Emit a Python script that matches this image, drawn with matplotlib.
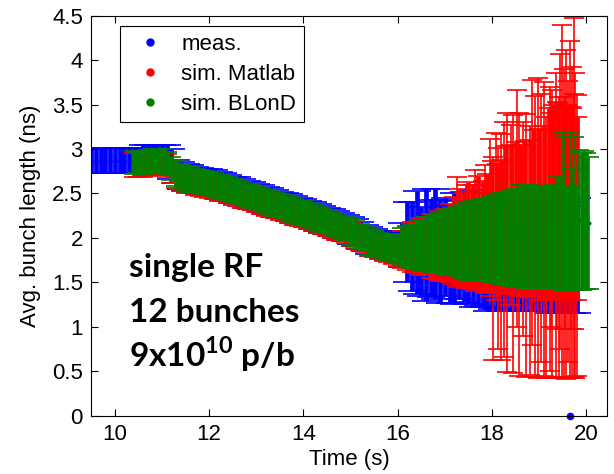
import matplotlib
matplotlib.use('Agg')
import matplotlib.pyplot as plt
from matplotlib.lines import Line2D

plt.rcParams['font.family'] = ['Liberation Sans', 'DejaVu Sans']
plt.rcParams['mathtext.fontset'] = 'custom'
plt.rcParams['mathtext.rm'] = 'Lato:bold'

# --- measured bunch length (blue) ---
meas_t = [9.3, 9.4, 9.5, 9.6, 9.7, 9.8, 9.9, 10.0, 10.1, 10.2, 10.3, 10.4, 10.5, 10.6,
          10.7, 10.8, 10.9, 11.0, 11.1, 11.2, 11.3, 11.4, 11.5, 11.6, 11.7, 11.8, 11.9,
          12.0, 12.1, 12.2, 12.3, 12.4, 12.5, 12.6, 12.7, 12.8, 12.9, 13.0, 13.1, 13.2,
          13.3, 13.4, 13.5, 13.6, 13.7, 13.8, 13.9, 14.0, 14.1, 14.2, 14.3, 14.4, 14.5,
          14.6, 14.7, 14.8, 14.9, 15.0, 15.1, 15.2, 15.3, 15.4, 15.5, 15.6, 15.7, 15.8,
          15.9, 16.0, 16.1, 16.2, 16.3, 16.4, 16.5, 16.6, 16.7, 16.8, 16.9, 17.0, 17.1,
          17.2, 17.3, 17.4, 17.5, 17.6, 17.7, 17.8, 17.9, 18.0, 18.1, 18.2, 18.3, 18.4,
          18.5, 18.6, 18.7, 18.8, 18.9, 19.0, 19.1, 19.2, 19.3, 19.4, 19.5, 19.6, 19.7,
          19.8]
meas_y = [2.87, 2.87, 2.87, 2.87, 2.87, 2.87, 2.87, 2.87, 2.87, 2.87, 2.87, 2.87, 2.87,
          2.89, 2.89, 2.89, 2.89, 2.89, 2.88, 2.83, 2.75, 2.70, 2.68, 2.67, 2.65, 2.64,
          2.63, 2.62, 2.61, 2.59, 2.58, 2.56, 2.54, 2.53, 2.51, 2.49, 2.48, 2.46, 2.44,
          2.42, 2.41, 2.39, 2.37, 2.36, 2.34, 2.32, 2.30, 2.29, 2.27, 2.25, 2.23, 2.21,
          2.19, 2.17, 2.15, 2.13, 2.11, 2.08, 2.06, 2.03, 2.00, 1.97, 1.95, 1.93, 1.91,
          1.90, 1.90, 1.90, 1.92, 1.95, 1.90, 1.95, 1.85, 1.92, 1.88, 1.93, 1.85, 1.90,
          1.82, 1.88, 1.86, 1.90, 1.84, 1.88, 1.83, 1.86, 1.80, 1.85, 1.80, 1.84, 1.78,
          1.82, 1.80, 1.78, 1.82, 1.78, 1.80, 1.76, 1.80, 1.78, 1.82, 1.76, 1.80, 1.78,
          1.76, 1.80]
meas_err = [0.14, 0.14, 0.14, 0.14, 0.14, 0.14, 0.14, 0.14, 0.14, 0.14, 0.14, 0.14, 0.14,
            0.15, 0.15, 0.15, 0.15, 0.15, 0.16, 0.17, 0.13, 0.15, 0.15, 0.15, 0.15, 0.15,
            0.15, 0.15, 0.15, 0.15, 0.15, 0.15, 0.15, 0.15, 0.15, 0.15, 0.15, 0.15, 0.15,
            0.15, 0.15, 0.15, 0.15, 0.15, 0.15, 0.15, 0.15, 0.15, 0.15, 0.15, 0.15, 0.15,
            0.15, 0.15, 0.15, 0.15, 0.15, 0.15, 0.15, 0.15, 0.15, 0.15, 0.15, 0.15, 0.15,
            0.15, 0.15, 0.18, 0.25, 0.45, 0.50, 0.58, 0.50, 0.63, 0.55, 0.62, 0.58, 0.55,
            0.55, 0.62, 0.55, 0.62, 0.58, 0.66, 0.60, 0.64, 0.62, 0.65, 0.60, 0.66, 0.60,
            0.63, 0.62, 0.60, 0.64, 0.60, 0.62, 0.58, 0.62, 0.62, 0.66, 0.60, 0.64, 0.62,
            0.60, 0.65]
# stray measurement at zero
meas_zero_t = [19.66]
meas_zero_y = [0.0]

# --- Matlab simulation (red) ---
matlab_t = [10.4, 10.5, 10.6, 10.7, 10.8, 10.9, 11.0, 11.1, 11.2, 11.3, 11.4, 11.5, 11.6,
            11.7, 11.8, 11.9, 12.0, 12.1, 12.2, 12.3, 12.4, 12.5, 12.6, 12.7, 12.8, 12.9,
            13.0, 13.1, 13.2, 13.3, 13.4, 13.5, 13.6, 13.7, 13.8, 13.9, 14.0, 14.1, 14.2,
            14.3, 14.4, 14.5, 14.6, 14.7, 14.8, 14.9, 15.0, 15.1, 15.2, 15.3, 15.4, 15.5,
            15.6, 15.7, 15.8, 15.9, 16.0, 16.1, 16.2, 16.3, 16.4, 16.5, 16.6, 16.7, 16.8,
            16.9, 17.0, 17.1, 17.2, 17.3, 17.4, 17.5, 17.6, 17.7, 17.8, 17.9, 18.0, 18.1,
            18.2, 18.3, 18.4, 18.5, 18.6, 18.7, 18.8, 18.9, 19.0, 19.1, 19.2, 19.3, 19.4,
            19.5, 19.6, 19.7, 19.8]
matlab_y = [2.82, 2.82, 2.82, 2.83, 2.84, 2.84, 2.84, 2.81, 2.75, 2.69, 2.66, 2.64, 2.63,
            2.61, 2.60, 2.59, 2.58, 2.57, 2.55, 2.54, 2.52, 2.50, 2.49, 2.47, 2.45, 2.44,
            2.42, 2.40, 2.38, 2.37, 2.35, 2.33, 2.32, 2.30, 2.28, 2.26, 2.25, 2.23, 2.21,
            2.19, 2.17, 2.15, 2.13, 2.11, 2.09, 2.07, 2.04, 2.02, 1.99, 1.96, 1.93, 1.91,
            1.89, 1.87, 1.86, 1.85, 1.86, 1.87, 1.88, 1.90, 1.89, 1.90, 1.89, 1.91, 1.90,
            1.91, 1.92, 1.94, 1.97, 2.01, 1.98, 2.04, 2.01, 2.06, 2.02, 2.05, 2.13, 2.11,
            2.13, 2.20, 2.21, 2.22, 2.20, 2.22, 2.22, 2.27, 2.26, 2.28, 2.38, 2.40, 2.41,
            2.39, 2.40, 2.38, 2.33]
matlab_err = [0.13, 0.13, 0.13, 0.13, 0.13, 0.13, 0.13, 0.13, 0.13, 0.13, 0.13, 0.13, 0.13,
              0.13, 0.13, 0.13, 0.13, 0.13, 0.13, 0.13, 0.13, 0.13, 0.13, 0.13, 0.13, 0.13,
              0.13, 0.13, 0.13, 0.13, 0.13, 0.13, 0.13, 0.13, 0.13, 0.13, 0.13, 0.13, 0.13,
              0.13, 0.13, 0.13, 0.13, 0.13, 0.13, 0.13, 0.13, 0.13, 0.13, 0.13, 0.13, 0.13,
              0.13, 0.13, 0.13, 0.14, 0.18, 0.21, 0.24, 0.28, 0.28, 0.32, 0.31, 0.36, 0.36,
              0.39, 0.41, 0.44, 0.49, 0.54, 0.52, 0.59, 0.58, 0.64, 0.62, 0.67, 0.73, 0.72,
              0.75, 0.83, 0.84, 0.86, 0.85, 0.87, 0.88, 0.94, 0.96, 0.98, 1.08, 1.10, 1.11,
              1.09, 1.10, 1.08, 1.03]
# isolated Matlab points with very large spread
matlab_out_t = [17.25, 17.45, 17.65, 17.85, 17.95, 18.02, 18.08, 18.12, 18.2, 18.25, 18.32,
                18.4, 18.45, 18.52, 18.58, 18.65, 18.72, 18.8, 18.85, 18.92, 18.98, 19.05,
                19.1, 19.15, 19.22, 19.28, 19.35, 19.42, 19.45, 19.48, 19.52, 19.58, 19.62,
                19.65, 19.7, 19.73, 19.77, 19.8, 19.25, 19.38, 19.55, 19.68, 19.75]
matlab_out_y = [2.07, 2.02, 2.08, 2.10, 2.23, 1.77, 2.24, 1.88, 1.90, 1.98, 1.95, 2.26,
                1.93, 2.33, 1.93, 2.10, 1.91, 1.86, 2.29, 2.02, 2.11, 2.11, 2.10, 1.89,
                2.10, 2.04, 2.14, 2.00, 2.41, 2.42, 2.16, 2.26, 2.18, 2.32, 2.17, 2.45,
                2.14, 2.03, 2.20, 2.25, 2.28, 2.22, 2.30]
matlab_out_err = [0.62, 0.58, 0.68, 0.72, 0.88, 1.14, 0.94, 1.13, 1.27, 1.32, 1.46, 1.01,
                  1.45, 1.33, 1.48, 1.20, 1.48, 1.40, 1.49, 1.58, 1.69, 1.51, 1.65, 1.47,
                  1.60, 1.62, 1.71, 1.58, 1.66, 1.98, 1.74, 1.85, 1.58, 1.90, 1.75, 2.02,
                  1.72, 1.58, 1.20, 1.28, 1.30, 1.25, 1.32]

# --- BLonD simulation (green) ---
blond_t = [10.4, 10.5, 10.6, 10.7, 10.8, 10.9, 11.0, 11.1, 11.2, 11.3, 11.4, 11.5, 11.6,
           11.7, 11.8, 11.9, 12.0, 12.1, 12.2, 12.3, 12.4, 12.5, 12.6, 12.7, 12.8, 12.9,
           13.0, 13.1, 13.2, 13.3, 13.4, 13.5, 13.6, 13.7, 13.8, 13.9, 14.0, 14.1, 14.2,
           14.3, 14.4, 14.5, 14.6, 14.7, 14.8, 14.9, 15.0, 15.1, 15.2, 15.3, 15.4, 15.5,
           15.6, 15.7, 15.8, 15.9, 16.0, 16.1, 16.2, 16.3, 16.4, 16.5, 16.6, 16.7, 16.8,
           16.9, 17.0, 17.1, 17.2, 17.3, 17.4, 17.5, 17.6, 17.7, 17.8, 17.9, 18.0, 18.1,
           18.2, 18.3, 18.4, 18.5, 18.6, 18.7, 18.8, 18.9, 19.0, 19.1, 19.2, 19.3, 19.4,
           19.5, 19.6, 19.7, 19.8, 19.9, 20.0]
blond_y = [2.85, 2.85, 2.85, 2.86, 2.87, 2.87, 2.87, 2.84, 2.78, 2.72, 2.69, 2.67, 2.66,
           2.64, 2.63, 2.62, 2.61, 2.60, 2.58, 2.57, 2.55, 2.53, 2.52, 2.50, 2.48, 2.47,
           2.45, 2.43, 2.41, 2.40, 2.38, 2.36, 2.35, 2.33, 2.31, 2.29, 2.28, 2.26, 2.24,
           2.22, 2.20, 2.18, 2.16, 2.14, 2.12, 2.10, 2.07, 2.05, 2.02, 1.99, 1.96, 1.94,
           1.92, 1.90, 1.89, 1.88, 1.88, 1.90, 1.90, 1.91, 1.92, 1.92, 1.93, 1.93, 1.94,
           1.94, 1.95, 1.95, 1.96, 1.96, 1.96, 1.96, 1.97, 1.98, 1.98, 1.98, 1.98, 1.99,
           1.99, 2.00, 2.00, 2.00, 2.03, 2.00, 2.02, 2.00, 2.00, 2.01, 2.00, 2.01, 2.05,
           2.00, 2.00, 2.00, 2.00, 2.18, 2.19]
blond_err = [0.13, 0.12, 0.13, 0.13, 0.13, 0.12, 0.13, 0.13, 0.13, 0.14, 0.14, 0.14, 0.14,
             0.13, 0.13, 0.13, 0.13, 0.13, 0.13, 0.13, 0.13, 0.13, 0.13, 0.13, 0.13, 0.13,
             0.13, 0.13, 0.13, 0.13, 0.13, 0.13, 0.13, 0.13, 0.13, 0.13, 0.13, 0.13, 0.13,
             0.13, 0.13, 0.13, 0.13, 0.13, 0.13, 0.13, 0.14, 0.14, 0.14, 0.14, 0.14, 0.14,
             0.14, 0.14, 0.14, 0.14, 0.15, 0.21, 0.23, 0.25, 0.27, 0.28, 0.30, 0.31, 0.33,
             0.34, 0.36, 0.37, 0.38, 0.40, 0.42, 0.43, 0.44, 0.45, 0.47, 0.47, 0.48, 0.50,
             0.51, 0.52, 0.54, 0.55, 0.57, 0.56, 0.58, 0.57, 0.57, 0.57, 0.57, 0.59, 0.63,
             0.58, 0.58, 0.58, 0.58, 0.77, 0.77]
# isolated BLonD points with larger spread
blond_out_t = [19.5, 19.55, 19.65, 19.72, 19.75, 19.85, 19.95, 20.05]
blond_out_y = [2.30, 2.28, 2.30, 2.10, 2.27, 2.20, 2.20, 2.17]
blond_out_err = [0.89, 0.87, 0.89, 0.68, 0.86, 0.79, 0.78, 0.74]

BLUE = '#0000ff'
RED = '#ff0000'
GREEN = '#008000'

fig = plt.figure(figsize=(6.14, 4.74), dpi=100)
ax = fig.add_axes([0.1487, 0.1230, 0.8407, 0.8439])


def draw(t, y, err, color, lw, cap, z, ms=4, clip=True):
    ax.errorbar(t, y, yerr=err, fmt='.', color=color, ms=ms, elinewidth=lw,
                capsize=cap, capthick=1.2, zorder=z, clip_on=clip)


# later series sit on top of earlier ones, markers included
draw(meas_t, meas_y, meas_err, BLUE, 3.4, 10, 1)
draw(meas_zero_t, meas_zero_y, [0.0], BLUE, 1.0, 0, 1, ms=9, clip=False)
draw(matlab_t, matlab_y, matlab_err, RED, 3.4, 7, 2)
draw(matlab_out_t, matlab_out_y, matlab_out_err, RED, 1.2, 7, 2)
draw(blond_t, blond_y, blond_err, GREEN, 3.4, 7, 3)
draw(blond_out_t, blond_out_y, blond_out_err, GREEN, 1.2, 7, 3)

ax.set_xlim(9.5, 20.45)
ax.set_ylim(0, 4.5)
ax.set_xticks([10, 12, 14, 16, 18, 20])
ax.set_yticks([0, 0.5, 1, 1.5, 2, 2.5, 3, 3.5, 4, 4.5])
ax.set_yticklabels(['0', '0.5', '1', '1.5', '2', '2.5', '3', '3.5', '4', '4.5'])
ax.tick_params(direction='in', top=True, right=True, length=5, width=0.8,
               labelsize=16, pad=6)
ax.set_xlabel('Time (s)', fontsize=16, labelpad=3)
ax.set_ylabel('Avg. bunch length (ns)', fontsize=16, labelpad=8)

handles = [Line2D([], [], marker='.', ls='none', color=c, ms=10) for c in (BLUE, RED, GREEN)]
leg = ax.legend(handles, ['meas.', 'sim. Matlab', 'sim. BLonD'], loc='upper left',
                bbox_to_anchor=(0.056, 0.974), borderaxespad=0, fontsize=16,
                fancybox=False, edgecolor='black', framealpha=1,
                handlelength=2.0, handletextpad=0.4, labelspacing=0.4, borderpad=0.35)
leg.get_frame().set_linewidth(0.8)
leg.set_zorder(5)

ann = dict(fontfamily='Lato', fontweight='bold', fontsize=24, va='baseline')
ax.text(10.31, 1.56, 'single RF', **ann)
ax.text(10.31, 1.05, '12 bunches', **ann)
ax.text(10.31, 0.55, r'9x10$^{\mathrm{10}}$ p/b', **ann)

fig.savefig('out.png', dpi=100)
